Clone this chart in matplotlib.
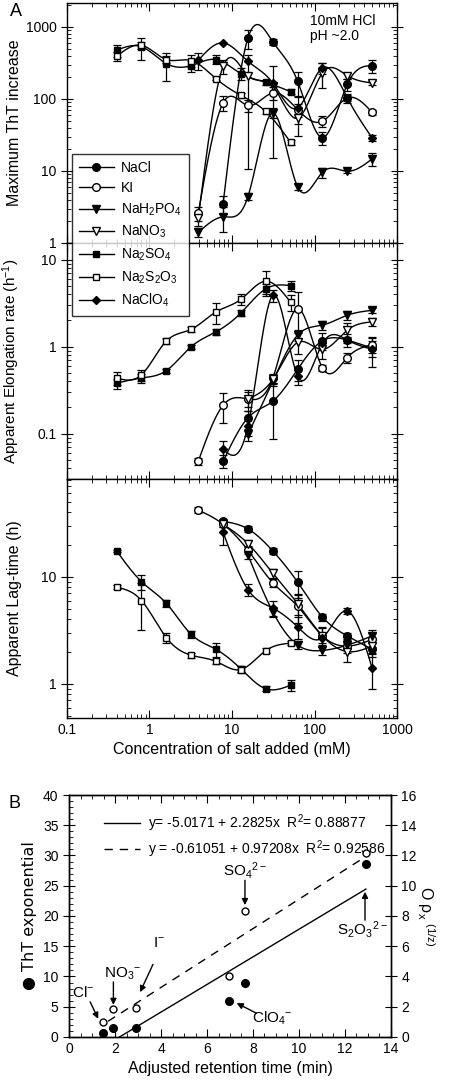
import numpy as np
import matplotlib
matplotlib.use('Agg')
import matplotlib.pyplot as plt
from matplotlib.lines import Line2D
from matplotlib.ticker import FixedLocator, NullFormatter, LogLocator, MultipleLocator

plt.rcParams['font.family'] = ['Liberation Sans', 'DejaVu Sans']
plt.rcParams['mathtext.default'] = 'regular'
plt.rcParams['axes.linewidth'] = 1.0

nan = np.nan

# salt concentrations (mM)
conc_s = [0.4, 0.8, 1.6, 3.2, 6.4, 12.8, 25.6, 51.2]     # Na2SO4, Na2S2O3
conc_o = [3.9, 7.8, 15.6, 31.25, 62.5, 125, 250, 500]    # the other salts

# maximum ThT increase
top_nacl = [nan, 3.5, 700, 620, 175, 29, 160, 290]
top_nacl_err = [0, 1.0, 200, 60, 65, 6, 30, 60]
top_ki = [2.6, 88, 81, 121, 71, 49, 103, 65]
top_ki_err = [0.6, 20, 15, 25, 15, 8, 15, 5]
top_nah2po4 = [1.4, 2.3, 4.4, 64, 6.0, 9.6, 9.9, 14.7]
top_nah2po4_err = [0.2, 0.9, 0.5, 10, 0.5, 1.5, 0.5, 3]
top_nano3 = [2.2, 283, 210, 150, 54, 230, 210, 166]
top_nano3_err = [0.5, 60, 200, 135, 23, 90, 20, 10]
top_na2so4 = [474, 530, 310, 290, 352, 225, 170, 126]
top_na2so4_err = [95, 180, 130, 50, 50, 40, 15, 10]
top_na2s2o3 = [391, 556, 352, 341, 191, 112, 67, 25]
top_na2s2o3_err = [60, 60, 40, 60, 10, 10, 5, 2]
top_naclo4 = [344, 600, 333, 166, 75, 270, 103, 28.7]
top_naclo4_err = [90, 0, 0, 0, 30, 50, 10, 3]

# apparent elongation rate (1/h)
mid_nacl = [nan, 0.048, 0.152, 0.236, 0.55, 1.17, 1.19, 0.96]
mid_nacl_err = [0, 0.008, 0.03, 0.15, 0.15, 0.25, 0.2, 0.2]
mid_ki = [0.048, 0.212, 0.25, 0.436, 2.74, 0.57, 0.75, 1.05]
mid_ki_err = [0.005, 0.08, 0.05, 0.05, 1.5, 0.05, 0.1, 0.2]
mid_nah2po4 = [nan, nan, 0.098, 0.40, 1.36, 1.77, 2.3, 2.62]
mid_nah2po4_err = [0, 0, 0.015, 0.05, 0.2, 0.2, 0.3, 0.2]
mid_nano3 = [nan, nan, 0.25, 0.42, 1.12, 0.93, 1.55, 1.93]
mid_nano3_err = [0, 0, 0.07, 0.05, 0.3, 0.2, 0.3, 0.2]
mid_na2so4 = [0.38, 0.436, 0.53, 1.0, 1.48, 2.44, 4.62, 5.05]
mid_na2so4_err = [0.05, 0.05, 0.03, 0.05, 0.1, 0.2, 0.6, 0.7]
mid_na2s2o3 = [0.436, 0.475, 1.16, 1.58, 2.51, 3.5, 5.66, 3.26]
mid_na2s2o3_err = [0.07, 0.07, 0.1, 0.1, 0.7, 0.5, 1.8, 0.7]
mid_naclo4 = [nan, 0.066, 0.123, 3.9, 0.46, 1.09, 1.19, 0.93]
mid_naclo4_err = [0, 0.016, 0.03, 0.6, 0.1, 0.1, 0.1, 0.35]

# apparent lag-time (h)
bot_nacl = [nan, 33, 28, 17.4, 8.9, 4.2, 2.8, 2.1]
bot_nacl_err = [0, 2, 2, 1, 2.5, 0.3, 0.2, 0.3]
bot_ki = [42, 31, 17.7, 8.8, 5.3, 2.8, 2.25, 2.6]
bot_ki_err = [3, 2, 1.5, 0.8, 1.6, 0.5, 0.3, 0.4]
bot_nah2po4 = [nan, nan, 16, 4.7, 2.3, 2.05, 2.3, 2.8]
bot_nah2po4_err = [0, 0, 1.5, 0.5, 0.2, 0.2, 0.2, 0.4]
bot_nano3 = [nan, 31, 20.4, 10.8, 5.6, 2.8, 2.0, 2.25]
bot_nano3_err = [0, 2, 1.5, 1, 1.2, 0.6, 0.4, 0.3]
bot_naclo4 = [nan, 26, 7.6, 5.1, 3.4, 2.7, 4.8, 1.4]
bot_naclo4_err = [0, 6, 1, 0.8, 0.8, 0.3, 0.3, 0.5]
bot_na2so4 = [17.4, 9.0, 5.65, 2.9, 2.1, 1.38, 0.9, 0.97]
bot_na2so4_err = [0.5, 1.5, 0.4, 0.2, 0.3, 0.1, 0.05, 0.12]
bot_na2s2o3 = [8.0, 6.0, 2.7, 1.85, 1.62, 1.36, 2.04, 2.4]
bot_na2s2o3_err = [0.3, 2.8, 0.3, 0.1, 0.1, 0.1, 0.1, 0.1]

# panel B
ret_time = [1.46, 1.90, 2.91, 6.96, 7.65, 12.91]
tht_exp = [0.72, 1.43, 1.43, 6.0, 9.0, 28.6]
rho_x = [1.01, 1.83, 1.92, 4.03, 8.31, 12.19]
fit1 = (-5.0171, 2.2825)
fit2 = (-0.61051, 0.97208)

salts = ['NaCl', 'KI', 'NaH$_2$PO$_4$', 'NaNO$_3$', 'Na$_2$SO$_4$',
         'Na$_2$S$_2$O$_3$', 'NaClO$_4$']
styles = [('o', 'k', 5.5), ('o', 'w', 5.5), ('v', 'k', 6), ('v', 'w', 6),
          ('s', 'k', 5), ('s', 'w', 5), ('D', 'k', 4.5)]


def smooth(xs, ys, n=300):
    '''natural cubic spline in log-log space, for drawing the curve'''
    lx = np.log10(xs)
    ly = np.log10(ys)
    k = len(lx)
    h = np.diff(lx)
    A = np.zeros((k, k))
    r = np.zeros(k)
    A[0, 0] = A[-1, -1] = 1.0
    for i in range(1, k - 1):
        A[i, i - 1] = h[i - 1]
        A[i, i] = 2 * (h[i - 1] + h[i])
        A[i, i + 1] = h[i]
        r[i] = 3 * ((ly[i + 1] - ly[i]) / h[i] - (ly[i] - ly[i - 1]) / h[i - 1])
    c = np.linalg.solve(A, r)
    b = (ly[1:] - ly[:-1]) / h - h * (2 * c[:-1] + c[1:]) / 3
    d = (c[1:] - c[:-1]) / (3 * h)
    t = np.linspace(lx[0], lx[-1], n)
    j = np.clip(np.searchsorted(lx, t) - 1, 0, k - 2)
    dt = t - lx[j]
    yy = ly[j] + b[j] * dt + c[j] * dt ** 2 + d[j] * dt ** 3
    return 10 ** t, 10 ** yy


def draw(ax, x, y, err, style):
    x = np.array(x, float)
    y = np.array(y, float)
    err = np.array(err, float)
    ok = ~np.isnan(y)
    x, y, err = x[ok], y[ok], err[ok]
    sx, sy = smooth(x, y)
    ax.plot(sx, sy, color='k', lw=1, zorder=2)
    lo = np.minimum(err, y * 0.95)
    ax.errorbar(x, y, yerr=[lo, err], fmt='none', ecolor='k',
                elinewidth=0.9, capsize=3, capthick=0.9, zorder=3)
    m, fc, ms = style
    ax.plot(x, y, ls='none', marker=m, mfc=fc, mec='k', mew=1, ms=ms,
            zorder=4)


fig = plt.figure(figsize=(4.49, 10.88), dpi=100)
ax1 = fig.add_axes([0.1492, 0.7767, 0.735, 0.2206])
ax2 = fig.add_axes([0.1492, 0.5597, 0.735, 0.2170])
ax3 = fig.add_axes([0.1492, 0.3401, 0.735, 0.2197])

panels = [
    (ax1, [top_nacl, top_ki, top_nah2po4, top_nano3, top_na2so4, top_na2s2o3, top_naclo4],
     [top_nacl_err, top_ki_err, top_nah2po4_err, top_nano3_err, top_na2so4_err,
      top_na2s2o3_err, top_naclo4_err]),
    (ax2, [mid_nacl, mid_ki, mid_nah2po4, mid_nano3, mid_na2so4, mid_na2s2o3, mid_naclo4],
     [mid_nacl_err, mid_ki_err, mid_nah2po4_err, mid_nano3_err, mid_na2so4_err,
      mid_na2s2o3_err, mid_naclo4_err]),
    (ax3, [bot_nacl, bot_ki, bot_nah2po4, bot_nano3, bot_na2so4, bot_na2s2o3, bot_naclo4],
     [bot_nacl_err, bot_ki_err, bot_nah2po4_err, bot_nano3_err, bot_na2so4_err,
      bot_na2s2o3_err, bot_naclo4_err]),
]

for ax, ys, errs in panels:
    for i, (y, e) in enumerate(zip(ys, errs)):
        xs = conc_s if i in (4, 5) else conc_o
        draw(ax, xs, y, e, styles[i])
    ax.set_xscale('log')
    ax.set_yscale('log')
    ax.set_xlim(0.1, 1000)
    ax.xaxis.set_minor_locator(LogLocator(base=10, subs=np.arange(2, 10)))
    ax.xaxis.set_minor_formatter(NullFormatter())
    ax.yaxis.set_minor_locator(LogLocator(base=10, subs=np.arange(2, 10)))
    ax.yaxis.set_minor_formatter(NullFormatter())
    ax.tick_params(axis='x', which='both', direction='in', top=True, bottom=True)
    ax.tick_params(axis='x', which='major', length=6)
    ax.tick_params(axis='x', which='minor', length=3)
    ax.tick_params(axis='y', which='major', direction='inout', length=8,
                   left=True, right=True)
    ax.tick_params(axis='y', which='minor', direction='in', length=3,
                   left=True, right=True)
    ax.tick_params(labelsize=10)

ax1.set_ylim(1, 2150)
ax1.yaxis.set_major_locator(FixedLocator([1, 10, 100, 1000]))
ax1.set_yticklabels(['1', '10', '100', '1000'])
ax2.set_ylim(0.03, 15.6)
ax2.yaxis.set_major_locator(FixedLocator([0.1, 1, 10]))
ax2.set_yticklabels(['0.1', '1', '10'])
ax3.set_ylim(0.48, 82)
ax3.yaxis.set_major_locator(FixedLocator([1, 10]))
ax3.set_yticklabels(['1', '10'])
for ax in (ax1, ax2):
    ax.tick_params(axis='x', labelbottom=False)
ax3.xaxis.set_major_locator(FixedLocator([0.1, 1, 10, 100, 1000]))
ax3.set_xticklabels(['0.1', '1', '10', '100', '1000'])

ax1.set_ylabel('Maximum ThT increase', fontsize=11.5)
ax2.set_ylabel('Apparent Elongation rate (h$^{-1}$)', fontsize=11)
ax3.set_ylabel('Apparent Lag-time (h)', fontsize=11.5)
ax3.set_xlabel('Concentration of salt added (mM)', fontsize=11.5)
for ax in (ax1, ax2, ax3):
    ax.yaxis.set_label_coords(-0.135, 0.5)

ax1.text(0.735, 0.955, '10mM HCl\npH ~2.0', transform=ax1.transAxes,
         ha='left', va='top', fontsize=10, linespacing=1.1)

handles = [Line2D([], [], color='k', lw=1, marker=m, mfc=fc, mec='k', ms=ms)
           for m, fc, ms in styles]
leg = fig.legend(handles, salts, loc='upper left',
                 bbox_to_anchor=(72 / 449, 1 - 154 / 1088), fontsize=10,
                 frameon=True, fancybox=False, edgecolor='k',
                 handlelength=2.5, labelspacing=0.45, borderpad=0.5,
                 handletextpad=0.5, borderaxespad=0)
leg.get_frame().set_linewidth(1.0)
leg.set_zorder(10)

fig.text(10 / 449, 1 - 12 / 1088, 'A', fontsize=13, ha='left', va='center')
fig.text(8 / 449, 1 - 803 / 1088, 'B', fontsize=13, ha='left', va='center')

# panel B
axb = fig.add_axes([0.1537, 0.0469, 0.7171, 0.2224])
axr = axb.twinx()
xl1 = np.array([-fit1[0] / fit1[1], ret_time[-1]])
xl2 = np.array([1.7, ret_time[-1]])
l1, = axb.plot(xl1, fit1[0] + fit1[1] * xl1, color='k', lw=1)
l2, = axr.plot(xl2, fit2[0] + fit2[1] * xl2, color='k', lw=1, dashes=(6, 5))
axb.plot(ret_time, tht_exp, ls='none', marker='o', mfc='k', mec='k', ms=5.5)
axr.plot(ret_time, rho_x, ls='none', marker='o', mfc='w', mec='k', ms=5,
         mew=1)

axb.set_xlim(0, 14)
axb.set_ylim(0, 40)
axr.set_ylim(0, 16)
axb.xaxis.set_major_locator(MultipleLocator(2))
axb.xaxis.set_minor_locator(MultipleLocator(0.5))
axb.yaxis.set_major_locator(MultipleLocator(5))
axb.yaxis.set_minor_locator(MultipleLocator(1))
axr.yaxis.set_major_locator(MultipleLocator(2))
axb.tick_params(axis='x', which='both', direction='in', top=True)
axb.tick_params(axis='x', which='major', length=6)
axb.tick_params(axis='x', which='minor', length=3)
axb.tick_params(axis='y', which='major', direction='inout', length=8,
                right=False)
axb.tick_params(axis='y', which='minor', direction='in', length=3,
                right=False)
axr.tick_params(axis='y', which='major', direction='inout', length=8)
axb.tick_params(labelsize=10)
axr.tick_params(labelsize=10)
axb.set_xlabel('Adjusted retention time (min)', fontsize=11.5)
axb.set_ylabel('\u25cf ThT exponential', fontsize=11.5, labelpad=4,
               family=['DejaVu Sans'])
axr.set_ylabel('O $\\rho_x$ $^{(1/z)}$', fontsize=11.5, rotation=270,
               labelpad=14)

axb.legend([l1, l2],
           ['y= -5.0171 + 2.2825x  R$^2$= 0.88877',
            'y = -0.61051 + 0.97208x  R$^2$= 0.92586'],
           loc='upper left', bbox_to_anchor=(0.09, 0.95), frameon=False,
           fontsize=10, handlelength=2.6, labelspacing=0.3,
           handletextpad=0.6, borderaxespad=0)

arrow = dict(arrowstyle='-|>', color='k', lw=1, mutation_scale=9,
             shrinkA=0, shrinkB=0)
notes = [('Cl$^{-}$', (0.6, 7.3), (0.92, 5.8), (1.27, 3.0)),
         ('NO$_3$$^{-}$', (2.35, 10.5), (1.93, 9.1), (1.93, 5.3)),
         ('I$^{-}$', (3.93, 15.5), (3.65, 12.0), (3.09, 7.4)),
         ('SO$_4$$^{2-}$', (7.65, 27.5), (7.65, 25.9), (7.65, 21.8)),
         ('ClO$_4$$^{-}$', (8.85, 3.1), (8.16, 3.9), (7.29, 5.6)),
         ('S$_2$O$_3$$^{2-}$', (12.75, 17.7), (12.87, 19.3), (12.87, 24.0))]
for label, tpos, a0, a1 in notes:
    axb.text(tpos[0], tpos[1], label, ha='center', va='center', fontsize=11)
    axb.annotate('', xy=a1, xytext=a0, arrowprops=arrow)

fig.savefig('out.png', dpi=100)
